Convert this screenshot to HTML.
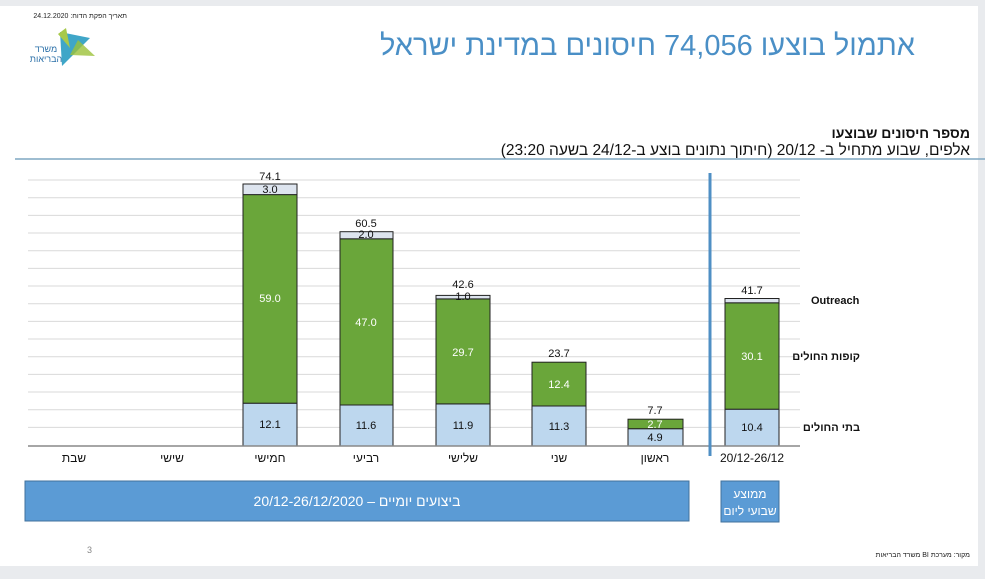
<!DOCTYPE html><html><head><meta charset="utf-8"><style>
body{margin:0;width:985px;height:574px;overflow:hidden;background:#e9ebee;font-family:"Liberation Sans","Noto Sans CJK SC",sans-serif}
</style></head><body>
<svg width="985" height="574" xmlns="http://www.w3.org/2000/svg" font-family="Liberation Sans, Noto Sans CJK SC, sans-serif">
<rect x="0" y="6" width="978" height="560" fill="#fff"/>
<text x="127" y="18" font-size="7" direction="rtl" unicode-bidi="embed" text-anchor="start" fill="#222">תאריך הפקת הדוח: 24.12.2020</text>
<polygon points="60,32 90,38 62,66" fill="#3fa6c8"/><polygon points="58,34 66,28 70,48" fill="#a7c94a"/><polygon points="78,40 95,56 70,55" fill="#9cc23a" opacity=".8"/>
<text x="46" y="52" font-size="9" fill="#2a6fa8" text-anchor="middle">משרד</text>
<text x="46" y="62" font-size="9" fill="#2a6fa8" text-anchor="middle">הבריאות</text>
<text x="915" y="55" font-size="29" fill="#4a8fc6" direction="rtl" unicode-bidi="embed" text-anchor="start">אתמול בוצעו 74,056 חיסונים במדינת ישראל</text>
<text x="970" y="138" font-size="14" font-weight="bold" direction="rtl" unicode-bidi="embed" text-anchor="start" fill="#111">מספר חיסונים שבוצעו</text>
<text x="970" y="155" font-size="15.5" direction="rtl" unicode-bidi="embed" text-anchor="start" fill="#111">אלפים, שבוע מתחיל ב- 20/12 (חיתוך נתונים בוצע ב-24/12 בשעה 23:20)</text>
<line x1="15" y1="159" x2="985" y2="159" stroke="#7fa7c2" stroke-width="1.5"/>
<g stroke="#d9d9d9" stroke-width="1">
<line x1="28" x2="800" y1="180" y2="180"/><line x1="28" x2="800" y1="197.7" y2="197.7"/><line x1="28" x2="800" y1="215.4" y2="215.4"/><line x1="28" x2="800" y1="233" y2="233"/><line x1="28" x2="800" y1="250.7" y2="250.7"/><line x1="28" x2="800" y1="268.4" y2="268.4"/><line x1="28" x2="800" y1="286" y2="286"/><line x1="28" x2="800" y1="303.7" y2="303.7"/><line x1="28" x2="800" y1="321.4" y2="321.4"/><line x1="28" x2="800" y1="339" y2="339"/><line x1="28" x2="800" y1="356.7" y2="356.7"/><line x1="28" x2="800" y1="374.4" y2="374.4"/><line x1="28" x2="800" y1="392" y2="392"/><line x1="28" x2="800" y1="409.7" y2="409.7"/><line x1="28" x2="800" y1="427.4" y2="427.4"/>
</g>
<g stroke="#222" stroke-width="1">
<rect x="243" y="403.2" width="54" height="42.8" fill="#bdd7ee"/><rect x="243" y="194.6" width="54" height="208.6" fill="#6aa63a"/><rect x="243" y="184" width="54" height="10.6" fill="#dde4ee"/>
<rect x="340" y="405" width="53" height="41" fill="#bdd7ee"/><rect x="340" y="238.8" width="53" height="166.2" fill="#6aa63a"/><rect x="340" y="231.7" width="53" height="7.1" fill="#dde4ee"/>
<rect x="436" y="403.9" width="54" height="42.1" fill="#bdd7ee"/><rect x="436" y="298.9" width="54" height="105" fill="#6aa63a"/><rect x="436" y="295.4" width="54" height="3.5" fill="#dde4ee"/>
<rect x="532" y="406" width="54" height="40" fill="#bdd7ee"/><rect x="532" y="362.2" width="54" height="43.8" fill="#6aa63a"/>
<rect x="628" y="428.7" width="55" height="17.3" fill="#bdd7ee"/><rect x="628" y="419.2" width="55" height="9.5" fill="#6aa63a"/>
<rect x="725" y="409.2" width="54" height="36.8" fill="#bdd7ee"/><rect x="725" y="302.8" width="54" height="106.4" fill="#6aa63a"/><rect x="725" y="298.5" width="54" height="4.3" fill="#dde4ee"/>
</g>
<line x1="28" x2="800" y1="446" y2="446" stroke="#888" stroke-width="1.5"/>
<line x1="710" x2="710" y1="173" y2="456" stroke="#4f8fc4" stroke-width="3"/>
<g font-size="11" text-anchor="middle" fill="#111">
<text x="270" y="180">74.1</text><text x="270" y="193">3.0</text><text x="270" y="428">12.1</text>
<text x="366" y="227">60.5</text><text x="366" y="238">2.0</text><text x="366" y="429">11.6</text>
<text x="463" y="288">42.6</text><text x="463" y="300">1.0</text><text x="463" y="429">11.9</text>
<text x="559" y="357">23.7</text><text x="559" y="430">11.3</text>
<text x="655" y="414">7.7</text><text x="655" y="441">4.9</text>
<text x="752" y="294">41.7</text><text x="752" y="431">10.4</text>
</g>
<g font-size="11" text-anchor="middle" fill="#fff">
<text x="270" y="302">59.0</text><text x="366" y="326">47.0</text><text x="463" y="356">29.7</text><text x="559" y="388">12.4</text><text x="655" y="428">2.7</text><text x="752" y="360">30.1</text>
</g>
<g font-size="11" font-weight="bold" fill="#111">
<text x="811" y="304">Outreach</text><text x="860" y="360" text-anchor="end">קופות החולים</text><text x="860" y="431" text-anchor="end">בתי החולים</text>
</g>
<g font-size="12" text-anchor="middle" fill="#111">
<text x="74" y="462">שבת</text><text x="172" y="462">שישי</text><text x="270" y="462">חמישי</text><text x="366" y="462">רביעי</text><text x="463" y="462">שלישי</text><text x="559" y="462">שני</text><text x="655" y="462">ראשון</text><text x="752" y="462">20/12-26/12</text>
</g>
<rect x="25" y="481" width="664" height="40" fill="#5b9bd5" stroke="#41719c"/>
<text x="357" y="506" font-size="14" fill="#fff" text-anchor="middle">20/12-26/12/2020 – ביצועים יומיים</text>
<rect x="721" y="481" width="58" height="41" fill="#5b9bd5" stroke="#41719c"/>
<text x="750" y="498" font-size="12" fill="#fff" text-anchor="middle">ממוצע</text>
<text x="750" y="515" font-size="12" fill="#fff" text-anchor="middle">שבועי ליום</text>
<text x="87" y="553" font-size="9" fill="#888">3</text>
<text x="970" y="557" font-size="7" fill="#222" direction="rtl" unicode-bidi="embed" text-anchor="start">מקור: מערכת BI משרד הבריאות</text>
</svg>
</body></html>
